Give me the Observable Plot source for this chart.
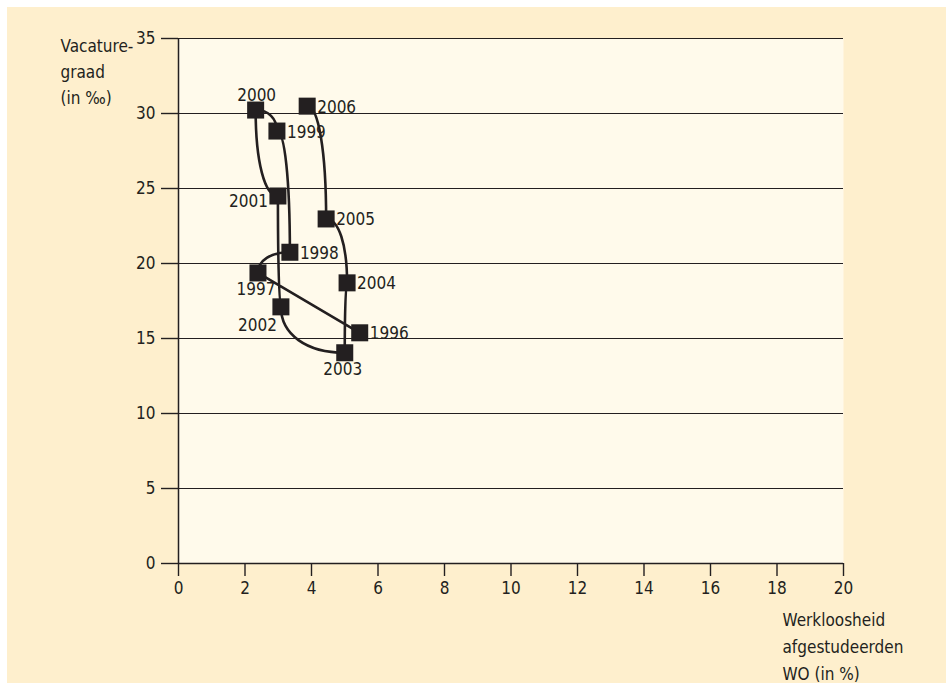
<!DOCTYPE html>
<html><head><meta charset="utf-8">
<script src="https://cdn.jsdelivr.net/npm/d3@7"></script>
<script src="https://cdn.jsdelivr.net/npm/@observablehq/plot@0.6"></script>
<style>
html,body{margin:0;padding:0;background:#fff;}
#wrap{position:absolute;left:7px;top:7px;width:939px;height:676px;background:#feefcd;}
#wrap svg{display:block;font-stretch:condensed;}
#wrap svg text{font-stretch:condensed;}
</style></head><body><div id="wrap"></div>
<script>
const years = [1996, 1997, 1998, 1999, 2000, 2001, 2002, 2003, 2004, 2005, 2006];
const unemployment = [5.45, 2.39, 3.35, 2.96, 2.32, 2.99, 3.08, 5.00, 5.07, 4.44, 3.87];
const vacancy = [15.38, 19.37, 20.75, 28.83, 30.23, 24.50, 17.11, 14.05, 18.71, 22.97, 30.49];
const labelSide = ["e", "s", "e", "e", "n", "w", "sw", "s", "e", "e", "e"];
const xTicks = [0, 2, 4, 6, 8, 10, 12, 14, 16, 18, 20];
const yTicks = [0, 5, 10, 15, 20, 25, 30, 35];
const yLabel = "Vacature-\ngraad\n(in ‰)";
const xLabel = "Werkloosheid\nafgestudeerden\nWO (in %)";

const data = years.map((y, i) => ({year: y, x: unemployment[i], y: vacancy[i], side: labelSide[i]}));
const ink = "#231f20";
const font = "'DejaVu Sans Condensed', 'DejaVu Sans', sans-serif";

// Curve style: first segment straight, then each segment leaves vertically and arrives horizontally
function VThenH(context) { this._context = context; }
VThenH.prototype = {
  areaStart() {}, areaEnd() {},
  lineStart() { this._point = 0; },
  lineEnd() {},
  point(x, y) {
    x = +x; y = +y;
    const c = this._context;
    if (this._point === 0) { this._point = 1; c.moveTo(x, y); }
    else if (this._point === 1) { this._point = 2; c.lineTo(x, y); }
    else {
      const k = 0.6;
      c.bezierCurveTo(this._x, this._y + k * (y - this._y), x - k * (x - this._x), y, x, y);
    }
    this._x = x; this._y = y;
  }
};
const curveVH = ctx => new VThenH(ctx);

const offsets = {
  e: {dx: 10, dy: 1, anchor: "start"},
  n: {dx: 1, dy: -15, anchor: "middle"},
  s: {dx: -2, dy: 17, anchor: "middle"},
  w: {dx: -10, dy: 6, anchor: "end"},
  sw: {dx: -4, dy: 19, anchor: "end"}
};
const labelMarks = Object.entries(offsets).map(([k, o]) =>
  Plot.text(data.filter(d => d.side === k), {
    x: "x", y: "y", text: d => String(d.year),
    dx: o.dx, dy: o.dy, textAnchor: o.anchor, fill: ink, fontSize: 17
  })
);

const chart = Plot.plot({
  width: 939,
  height: 676,
  marginLeft: 171,
  marginRight: 103,
  marginTop: 31,
  marginBottom: 120,
  style: {fontFamily: font, fontSize: "17px", color: ink, background: "transparent", overflow: "visible"},
  x: {domain: [0, 20]},
  y: {domain: [0, 35]},
  marks: [
    Plot.frame({fill: "#fffaeb", stroke: null}),
    Plot.ruleY(yTicks.filter(t => t > 0), {stroke: ink, strokeWidth: 1.2}),
    Plot.ruleY([0], {stroke: ink, strokeWidth: 1.5}),
    Plot.ruleX([0], {stroke: ink, strokeWidth: 1.5}),
    Plot.axisY({ticks: yTicks, tickSize: 17, tickPadding: 6, tickFormat: d => String(d), label: null, strokeWidth: 1.4}),
    Plot.axisX({ticks: xTicks, tickSize: 13, tickPadding: 5, tickFormat: d => String(d), label: null, strokeWidth: 1.4}),
    Plot.line(data, {x: "x", y: "y", curve: curveVH, stroke: ink, strokeWidth: 2.6}),
    Plot.dot(data, {x: "x", y: "y", symbol: "square", r: 9.6, fill: ink, stroke: null}),
    ...labelMarks,
    Plot.text([yLabel], {frameAnchor: "top-left", dx: -118, dy: -5, text: d => d, textAnchor: "start", lineAnchor: "top", lineHeight: 1.52, fill: ink, fontSize: 17}),
    Plot.text([xLabel], {frameAnchor: "bottom-right", dx: -61, dy: 44, text: d => d, textAnchor: "start", lineAnchor: "top", lineHeight: 1.57, fill: ink, fontSize: 17})
  ]
});
document.getElementById("wrap").appendChild(chart);
</script>
</body></html>
